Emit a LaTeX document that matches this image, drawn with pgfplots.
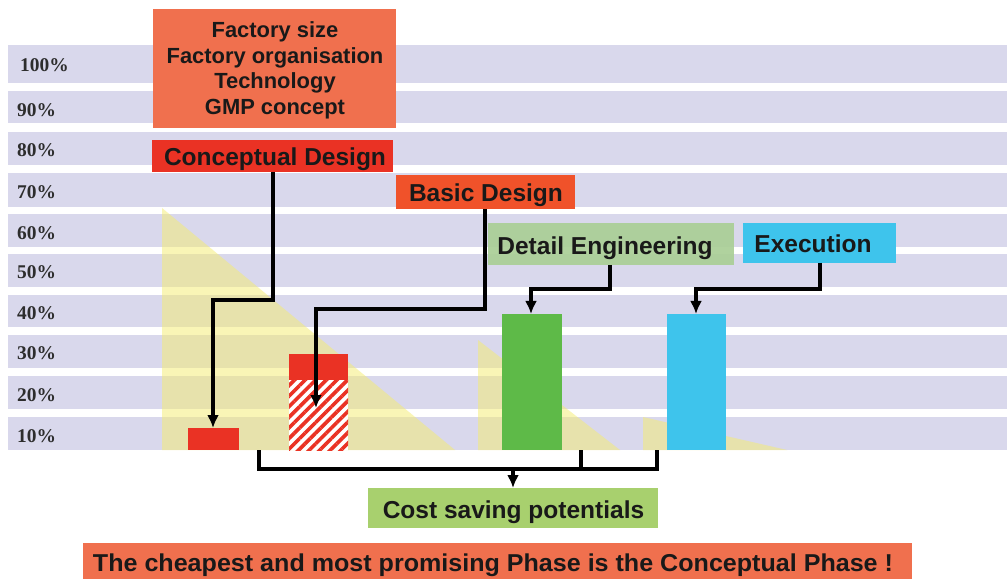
\documentclass[border=0pt]{standalone}
\usepackage{pgfplots}
\pgfplotsset{compat=1.18}
\usepackage{fontspec}
\setmainfont{Liberation Sans}
\newfontfamily\seriffont{Liberation Serif}
\usepackage{graphicx}
\usetikzlibrary{arrows.meta,patterns.meta}
\definecolor{band}{RGB}{217,216,236}
\definecolor{tri}{RGB}{245,236,110}
\definecolor{cred}{RGB}{234,50,36}
\definecolor{bred}{RGB}{240,82,42}
\definecolor{gbar}{RGB}{94,186,72}
\definecolor{bbar}{RGB}{62,196,236}
\definecolor{dbox}{RGB}{170,207,150}
\definecolor{cbox}{RGB}{168,208,110}
\definecolor{obox}{RGB}{240,112,78}
\definecolor{lbl}{RGB}{45,45,45}
\begin{document}
\begin{tikzpicture}
\begin{axis}[width=1007bp,height=579bp,scale only axis,
  xmin=0,xmax=1007,ymin=0,ymax=579,hide axis,clip=false]
% background
\fill[white] (axis cs:0,0) rectangle (axis cs:1007,579);
% horizontal bands (10% ... 100%)
\addplot[fill=band,draw=none] coordinates {(8,129)(1007,129)(1007,162)(8,162)};
\addplot[fill=band,draw=none] coordinates {(8,170)(1007,170)(1007,203)(8,203)};
\addplot[fill=band,draw=none] coordinates {(8,211)(1007,211)(1007,244)(8,244)};
\addplot[fill=band,draw=none] coordinates {(8,252)(1007,252)(1007,284)(8,284)};
\addplot[fill=band,draw=none] coordinates {(8,292)(1007,292)(1007,325)(8,325)};
\addplot[fill=band,draw=none] coordinates {(8,332)(1007,332)(1007,365)(8,365)};
\addplot[fill=band,draw=none] coordinates {(8,372)(1007,372)(1007,406)(8,406)};
\addplot[fill=band,draw=none] coordinates {(8,414)(1007,414)(1007,447)(8,447)};
\addplot[fill=band,draw=none] coordinates {(8,456)(1007,456)(1007,488)(8,488)};
\addplot[fill=band,draw=none] coordinates {(8,496)(1007,496)(1007,534)(8,534)};
% yellow triangles
\addplot[fill=tri,fill opacity=0.5,draw=none] coordinates {(162,371)(162,129)(455,129)};
\addplot[fill=tri,fill opacity=0.5,draw=none] coordinates {(478,239)(478,129)(620,129)};
\addplot[fill=tri,fill opacity=0.5,draw=none] coordinates {(643,162)(643,129)(787,129)};
% bars
\addplot[fill=cred,draw=none] coordinates {(188,129)(239,129)(239,151)(188,151)};
\addplot[fill=white,draw=none] coordinates {(289,129)(348,129)(348,199)(289,199)};
\addplot[pattern={Lines[angle=45,distance=7.5bp,line width=3.6bp]},pattern color=cred,draw=none] coordinates {(289,129)(348,129)(348,199)(289,199)};
\addplot[fill=cred,draw=none] coordinates {(289,199)(348,199)(348,225)(289,225)};
\addplot[fill=gbar,draw=none] coordinates {(502,129)(562,129)(562,265)(502,265)};
\addplot[fill=bbar,draw=none] coordinates {(667,129)(726,129)(726,265)(667,265)};
% boxes
\fill[obox] (axis cs:153,451) rectangle (axis cs:396,570);
\fill[cred] (axis cs:152,407) rectangle (axis cs:393,439);
\fill[bred] (axis cs:396,370) rectangle (axis cs:575,404);
\fill[dbox,opacity=0.92] (axis cs:488,314) rectangle (axis cs:734,356);
\fill[bbar] (axis cs:743,316) rectangle (axis cs:896,356);
\fill[cbox] (axis cs:368,51) rectangle (axis cs:658,91);
\fill[obox] (axis cs:83,0) rectangle (axis cs:912,36);
% connector lines
\addplot[black,line width=3.6bp,-{Latex[length=13bp,width=12bp]}] coordinates {(273,407)(273,279)(213,279)(213,151)};
\addplot[black,line width=3.6bp,-{Latex[length=13bp,width=12bp]}] coordinates {(485,370)(485,270)(316,270)(316,171)};
\addplot[black,line width=3.6bp,-{Latex[length=13bp,width=12bp]}] coordinates {(610,314)(610,290)(531,290)(531,265)};
\addplot[black,line width=3.6bp,-{Latex[length=13bp,width=12bp]}] coordinates {(820,316)(820,290)(696,290)(696,265)};
\addplot[black,line width=3.6bp] coordinates {(259,129)(259,110)(657,110)(657,129)};
\addplot[black,line width=3.6bp] coordinates {(581,129)(581,110)};
\addplot[black,line width=3.6bp,-{Latex[length=13bp,width=12bp]}] coordinates {(513,110)(513,91)};
% y labels
\begin{scope}[every node/.style={anchor=west,inner sep=0,text=lbl,font=\seriffont\bfseries\fontsize{19.5}{22}\selectfont}]
\node at (axis cs:20,514) {100\%};
\node at (axis cs:17,469) {90\%};
\node at (axis cs:17,429) {80\%};
\node at (axis cs:17,387) {70\%};
\node at (axis cs:17,346) {60\%};
\node at (axis cs:17,307) {50\%};
\node at (axis cs:17,266) {40\%};
\node at (axis cs:17,226) {30\%};
\node at (axis cs:17,184) {20\%};
\node at (axis cs:17,143) {10\%};
\end{scope}
% texts
\begin{scope}[every node/.style={anchor=base,inner sep=0,text=black!90,font=\bfseries\fontsize{22}{26}\selectfont}]
\node at (axis cs:275,541) {Factory size};
\node at (axis cs:275,515) {Factory organisation};
\node at (axis cs:275,490) {Technology};
\node at (axis cs:275,464) {GMP concept};
\end{scope}
\begin{scope}[every node/.style={anchor=base,inner sep=0,text=black!90,font=\bfseries\fontsize{24.6}{28}\selectfont}]
\node at (axis cs:275,413) {Conceptual Design};
\node at (axis cs:486,377) {Basic Design};
\node at (axis cs:605,324) {Detail Engineering};
\node at (axis cs:813,326) {Execution};
\node at (axis cs:513.5,61) {Cost saving potentials};
\node at (axis cs:493,8) {\resizebox{800bp}{\height}{\fontsize{24.5}{28}\selectfont\bfseries The cheapest and most promising Phase is the Conceptual Phase !}};
\end{scope}
\end{axis}
\end{tikzpicture}
\end{document}
